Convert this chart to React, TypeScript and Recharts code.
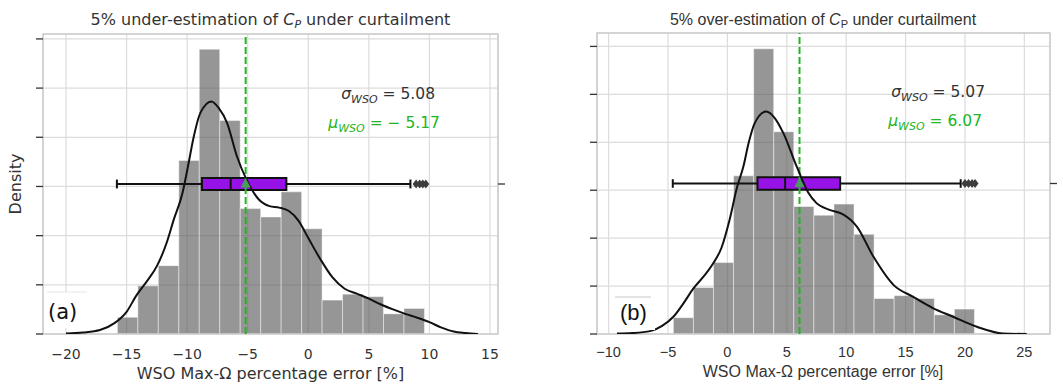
import React from "react";
import {
  ComposedChart,
  Line,
  Scatter,
  XAxis,
  YAxis,
  CartesianGrid,
  ReferenceArea,
  ReferenceLine,
} from "recharts";

// ---- panel (a): 5% under-estimation ----
const leftBinEdges = [
  -15.76, -14.07, -12.38, -10.69, -9.0, -7.31, -5.62, -3.93, -2.24, -0.55, 1.14, 2.83, 4.52,
  6.21, 7.9, 9.59,
];
const leftBinHeights = [
  0.34, 0.98, 1.39, 3.53, 5.79, 4.34, 2.55, 2.38, 2.89, 2.14, 0.69, 0.81, 0.76, 0.41, 0.52,
];
const leftKdeX = [
  -20, -18.6, -17.2, -16, -15, -14.2, -13.3, -12.5, -11.7, -11.1, -10.4, -9.9, -9.5, -8.9, -8.0,
  -7.4, -6.7, -5.9, -5.1, -4.1, -3.2, -2.4, -1.6, -0.8, 0, 1, 2, 3, 4, 5, 6, 7, 8, 9, 10, 11, 12,
  13, 14,
];
const leftKdeY = [
  0.01, 0.03, 0.08, 0.22, 0.45, 0.78, 1.08, 1.38, 1.85, 2.33, 2.85, 3.45, 3.96, 4.5, 4.73, 4.6,
  4.29, 3.62, 3.14, 2.74, 2.6, 2.57, 2.5, 2.3, 1.95, 1.52, 1.15, 0.92, 0.82, 0.72, 0.6, 0.5, 0.41,
  0.33, 0.24, 0.13, 0.05, 0.02, 0.0,
];
// whisker low, q1, median, q3, whisker high
const leftBoxStats = [-15.8, -8.78, -6.41, -1.81, 8.43];
const leftOutliers = [8.9, 9.2, 9.45, 9.7];
const leftMean = -5.17;
const leftXTicks = [-20, -15, -10, -5, 0, 5, 10, 15];

// ---- panel (b): 5% over-estimation ----
const rightBinEdges = [
  -4.55, -2.86, -1.17, 0.52, 2.21, 3.9, 5.59, 7.28, 8.97, 10.66, 12.35, 14.04, 15.73, 17.42,
  19.11, 20.8,
];
const rightBinHeights = [
  0.34, 0.97, 1.49, 3.3, 5.95, 4.22, 2.66, 2.48, 2.71, 2.08, 0.74, 0.8, 0.74, 0.4, 0.52,
];
const rightKdeX = [
  -9.3, -8, -6.5, -5.5, -4.55, -3.7, -2.86, -2.0, -1.18, -0.5, 0.2, 0.8, 1.35, 1.8, 2.3, 3.26, 4.0,
  4.71, 5.84, 6.8, 7.5, 8.6, 9.7, 10.9, 12.3, 14.0, 15.6, 17.3, 19.0, 21.0, 23.2, 25.2,
];
const rightKdeY = [
  0.01, 0.02, 0.06, 0.17, 0.36, 0.64, 0.95, 1.2, 1.48, 1.8, 2.4, 3.05, 3.5, 4.0, 4.4, 4.64, 4.5,
  4.19, 3.49, 2.95, 2.73, 2.59, 2.5, 2.24, 1.61, 1.02, 0.78, 0.54, 0.36, 0.15, 0.01, 0.0,
];
const rightBoxStats = [-4.6, 2.53, 4.86, 9.49, 19.64];
const rightOutliers = [20.0, 20.3, 20.6, 20.85];
const rightMean = 6.07;
const rightXTicks = [-10, -5, 0, 5, 10, 15, 20, 25];

const yTicks = [0, 1, 2, 3, 4, 5, 6];

const GREEN = "#22b522";
const PURPLE = "#9612e6";
const DEJAVU = "DejaVu Sans, sans-serif";
const ARIAL = "Liberation Sans, Arial, sans-serif";

const fmt = (v: number) => (v < 0 ? "\u2212" + Math.abs(v) : String(v));

const Diamond = (props: any) => {
  const { cx, cy } = props;
  return (
    <path
      d={`M${cx},${cy - 4.5} L${cx + 3.5},${cy} L${cx},${cy + 4.5} L${cx - 3.5},${cy} Z`}
      fill="#3d3d3d"
    />
  );
};

const Triangle = (props: any) => {
  const { cx, cy } = props;
  return (
    <path
      d={`M${cx},${cy - 6} L${cx + 5},${cy + 3.5} L${cx - 5},${cy + 3.5} Z`}
      fill="#4a9e5c"
    />
  );
};

type PanelCfg = {
  width: number;
  margin: { top: number; right: number; bottom: number; left: number };
  xDomain: [number, number];
  xTicks: number[];
  yMax: number;
  edges: number[];
  heights: number[];
  kdeX: number[];
  kdeY: number[];
  box: number[];
  outliers: number[];
  mean: number;
  boxY: number;
  boxH: number;
  font: string;
  tickFont: number;
  tickMargin: number;
};

function Panel({ cfg }: { cfg: PanelCfg }) {
  const kde = cfg.kdeX.map((x, i) => ({ x, y: cfg.kdeY[i] }));
  const [lo, q1, med, q3, hi] = cfg.box;
  const by = cfg.boxY;
  const bh = cfg.boxH;
  const cap = 0.09;
  return (
    <ComposedChart width={cfg.width} height={385} margin={cfg.margin}>
      <CartesianGrid stroke="#dcdcdc" strokeWidth={1.2} />
      <XAxis
        dataKey="x"
        type="number"
        domain={cfg.xDomain}
        ticks={cfg.xTicks}
        interval={0}
        allowDataOverflow
        tickFormatter={fmt}
        tickLine={false}
        axisLine={false}
        tickSize={0}
        tickMargin={cfg.tickMargin}
        height={30}
        tick={{ fontSize: cfg.tickFont, fill: "#333", fontFamily: cfg.font }}
      />
      <YAxis
        type="number"
        domain={[0, cfg.yMax]}
        ticks={yTicks}
        allowDataOverflow
        width={43}
        axisLine={false}
        tickSize={7}
        tickLine={{ stroke: "#333", strokeWidth: 1.3 }}
        tickFormatter={() => ""}
      />
      <YAxis
        yAxisId="box"
        orientation="right"
        type="number"
        domain={[0, cfg.yMax]}
        ticks={[by]}
        allowDataOverflow
        width={10}
        axisLine={false}
        tickSize={7}
        tickLine={{ stroke: "#333", strokeWidth: 1.3 }}
        tickFormatter={() => ""}
      />
      {cfg.heights.map((h, i) => (
        <ReferenceArea
          key={"bin" + i}
          x1={cfg.edges[i]}
          x2={cfg.edges[i + 1]}
          y1={0}
          y2={h}
          fill="#585858"
          fillOpacity={0.63}
          stroke="#ffffff"
          strokeOpacity={0.45}
          strokeWidth={1}
        />
      ))}
      <ReferenceLine x={cfg.mean} stroke={GREEN} strokeWidth={2} strokeDasharray="7 3" />
      <Line
        data={kde}
        dataKey="y"
        type="monotone"
        stroke="#111"
        strokeWidth={2}
        dot={false}
        activeDot={false}
        isAnimationActive={false}
      />
      <ReferenceLine
        segment={[
          { x: lo, y: by },
          { x: q1, y: by },
        ]}
        stroke="#111"
        strokeWidth={2}
      />
      <ReferenceLine
        segment={[
          { x: q3, y: by },
          { x: hi, y: by },
        ]}
        stroke="#111"
        strokeWidth={2}
      />
      <ReferenceLine
        segment={[
          { x: lo, y: by - cap },
          { x: lo, y: by + cap },
        ]}
        stroke="#111"
        strokeWidth={2}
      />
      <ReferenceLine
        segment={[
          { x: hi, y: by - cap },
          { x: hi, y: by + cap },
        ]}
        stroke="#111"
        strokeWidth={2}
      />
      <ReferenceArea
        x1={q1}
        x2={q3}
        y1={by - bh}
        y2={by + bh}
        fill={PURPLE}
        fillOpacity={1}
        stroke="#111"
        strokeWidth={2}
      />
      <ReferenceLine
        segment={[
          { x: med, y: by - bh },
          { x: med, y: by + bh },
        ]}
        stroke="#111"
        strokeWidth={2}
      />
      <Scatter
        data={cfg.outliers.map((x) => ({ x, y: by }))}
        dataKey="y"
        shape={Diamond}
        isAnimationActive={false}
      />
      <Scatter
        data={[{ x: cfg.mean, y: by }]}
        dataKey="y"
        shape={Triangle}
        isAnimationActive={false}
      />
      <ReferenceArea
        x1={cfg.xDomain[0]}
        x2={cfg.xDomain[1]}
        y1={0}
        y2={cfg.yMax}
        fill="none"
        stroke="#cccccc"
        strokeWidth={1.5}
      />
    </ComposedChart>
  );
}

const leftCfg: PanelCfg = {
  width: 530,
  margin: { top: 34, right: 22, bottom: 21, left: 0 },
  xDomain: [-21.9, 15.66],
  xTicks: leftXTicks,
  yMax: 6.1,
  edges: leftBinEdges,
  heights: leftBinHeights,
  kdeX: leftKdeX,
  kdeY: leftKdeY,
  box: leftBoxStats,
  outliers: leftOutliers,
  mean: leftMean,
  boxY: 3.05,
  boxH: 0.12,
  font: DEJAVU,
  tickFont: 14,
  tickMargin: 15,
};

const rightCfg: PanelCfg = {
  width: 533,
  margin: { top: 33, right: 3, bottom: 21, left: 24 },
  xDomain: [-10.98, 27.16],
  xTicks: rightXTicks,
  yMax: 6.28,
  edges: rightBinEdges,
  heights: rightBinHeights,
  kdeX: rightKdeX,
  kdeY: rightKdeY,
  box: rightBoxStats,
  outliers: rightOutliers,
  mean: rightMean,
  boxY: 3.14,
  boxH: 0.13,
  font: ARIAL,
  tickFont: 14.5,
  tickMargin: 13,
};

function Stat({
  x,
  y,
  sym,
  value,
  color,
}: {
  x: number;
  y: number;
  sym: string;
  value: string;
  color: string;
}) {
  return (
    <text x={x} y={y} textAnchor="end" fontFamily={DEJAVU} fontSize={15.5} fill={color}>
      <tspan fontStyle="italic">{sym}</tspan>
      <tspan fontStyle="italic" fontSize={11} dy={4}>
        WSO
      </tspan>
      <tspan dy={-4}>{" = " + value}</tspan>
    </text>
  );
}

export default function App() {
  return (
    <div
      style={{
        position: "absolute",
        left: 0,
        top: 0,
        width: 1063,
        height: 385,
        background: "#fff",
      }}
    >
      <div style={{ position: "absolute", left: 0, top: 0 }}>
        <Panel cfg={leftCfg} />
      </div>
      <div style={{ position: "absolute", left: 530, top: 0 }}>
        <Panel cfg={rightCfg} />
      </div>
      <svg
        width={1063}
        height={385}
        style={{ position: "absolute", left: 0, top: 0, pointerEvents: "none" }}
      >
        {/* titles */}
        <text x={270.5} y={25} textAnchor="middle" fontFamily={DEJAVU} fontSize={16} fill="#333">
          5% under-estimation of <tspan fontStyle="italic">C</tspan>
          <tspan fontStyle="italic" fontSize={11} dy={3}>
            P
          </tspan>
          <tspan dy={-3}> under curtailment</tspan>
        </text>
        <text x={823} y={25} textAnchor="middle" fontFamily={ARIAL} fontSize={16} fill="#333">
          5% over-estimation of <tspan fontStyle="italic">C</tspan>
          <tspan fontSize={11} dy={3}>
            P
          </tspan>
          <tspan dy={-3}> under curtailment</tspan>
        </text>

        {/* axis labels */}
        <text x={270.5} y={379} textAnchor="middle" fontFamily={DEJAVU} fontSize={16} fill="#333">
          WSO Max-Ω percentage error [%]
        </text>
        <text x={823} y={377} textAnchor="middle" fontFamily={ARIAL} fontSize={16} fill="#333">
          WSO Max-Ω percentage error [%]
        </text>
        <text
          transform="translate(21,184) rotate(-90)"
          textAnchor="middle"
          fontFamily={DEJAVU}
          fontSize={16}
          fill="#333"
        >
          Density
        </text>

        {/* stats */}
        <Stat x={435} y={99} sym="σ" value="5.08" color="#333" />
        <Stat x={440} y={128} sym="μ" value={"\u2212 5.17"} color={GREEN} />
        <Stat x={985} y={97} sym="σ" value="5.07" color="#333" />
        <Stat x={982} y={126} sym="μ" value="6.07" color={GREEN} />

        {/* panel letters */}
        <rect x={47} y={292} width={41} height={36} fill="#fff" />
        <line x1={47} y1={292} x2={87} y2={292} stroke="#e6e6e6" strokeWidth={1} />
        <text x={48} y={319} fontFamily={DEJAVU} fontSize={21} fill="#111">
          (a)
        </text>
        <rect x={615} y={297} width={40} height={33} fill="#fff" />
        <line x1={615} y1={297} x2={651} y2={297} stroke="#c8c8c8" strokeWidth={1} />
        <text x={620} y={320} fontFamily={ARIAL} fontSize={22} fill="#111">
          (b)
        </text>
      </svg>
    </div>
  );
}
